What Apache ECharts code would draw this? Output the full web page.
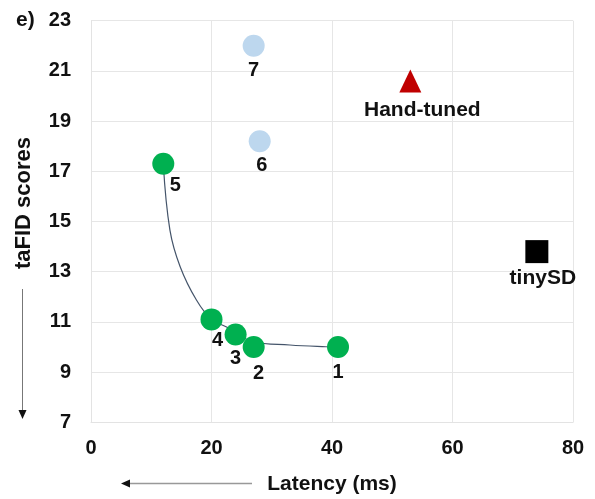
<!DOCTYPE html>
<html>
<head>
<meta charset="utf-8">
<script src="https://cdn.jsdelivr.net/npm/echarts@6/dist/echarts.min.js"></script>
<style>html,body{margin:0;padding:0;background:#fff;}#c{width:595px;height:499px;}</style>
</head>
<body>
<div id="c"></div>
<script>
// Data
const greenX = [41, 27, 24, 20, 12];
const greenY = [10.0, 10.0, 10.5, 11.1, 17.3];
const greenLabels = ['1', '2', '3', '4', '5'];
const blueX = [28, 27];
const blueY = [18.2, 22.0];
const blueLabels = ['6', '7'];
const handTuned = [53, 20.6];
const tinySD = [74, 13.8];
const curveX = [12, 13.1, 14.8, 17.5, 20, 22.5, 26.9, 33, 39, 41];
const curveY = [17.3, 14.66, 13.2, 11.87, 11.1, 10.8, 10.21, 10.08, 10.01, 10.0];
const xTicks = [0, 20, 40, 60, 80];
const yTicks = [7, 9, 11, 13, 15, 17, 19, 21, 23];

const labelOffsets = { '1': [0, 25], '2': [5, 26], '3': [0, 24], '4': [6, 21], '5': [12, 22], '6': [2, 24], '7': [0, 25] };
const font = 'Liberation Sans, Arial, sans-serif';
const lbl = (t) => ({ show: true, formatter: t, position: 'inside', offset: labelOffsets[t], color: '#111', fontSize: 20, fontWeight: 'bold', fontFamily: font });

const chart = echarts.init(document.getElementById('c'), null, { renderer: 'canvas' });
chart.setOption({
  animation: false,
  backgroundColor: '#fff',
  grid: { left: 91, right: 22, top: 20.7, bottom: 76.7 },
  xAxis: {
    type: 'value', min: xTicks[0], max: xTicks[xTicks.length - 1], interval: 20,
    axisLine: { show: true, lineStyle: { color: '#e3e3e3', width: 1 } },
    axisTick: { show: false },
    splitLine: { show: true, lineStyle: { color: '#e6e6e6', width: 1 } },
    axisLabel: { color: '#111', fontSize: 20, fontWeight: 'bold', fontFamily: font, margin: 16, formatter: v => xTicks.includes(v) ? String(v) : '' }
  },
  yAxis: {
    type: 'value', min: yTicks[0], max: yTicks[yTicks.length - 1], interval: 2,
    axisLine: { show: true, lineStyle: { color: '#e3e3e3', width: 1 } },
    axisTick: { show: false },
    splitLine: { show: true, lineStyle: { color: '#e6e6e6', width: 1 } },
    axisLabel: { color: '#111', fontSize: 20, fontWeight: 'bold', fontFamily: font, margin: 20, formatter: v => yTicks.includes(v) ? String(v) : '' }
  },
  series: [
    {
      type: 'line', smooth: 0.4, symbol: 'none', z: 1,
      data: curveX.map((x, i) => [x, curveY[i]]),
      lineStyle: { color: '#44546A', width: 1.2 }
    },
    {
      type: 'scatter', symbol: 'circle', symbolSize: 22, z: 3,
      itemStyle: { color: '#00B050', opacity: 1 },
      data: greenX.map((x, i) => ({ value: [x, greenY[i]], label: lbl(greenLabels[i]) }))
    },
    {
      type: 'scatter', symbol: 'circle', symbolSize: 22, z: 3,
      itemStyle: { color: '#BDD7EE', opacity: 1 },
      data: blueX.map((x, i) => ({ value: [x, blueY[i]], label: lbl(blueLabels[i]) }))
    },
    {
      type: 'scatter', symbol: 'triangle', symbolSize: [22, 23], z: 3,
      itemStyle: { color: '#C00000', opacity: 1 },
      data: [{ value: handTuned, label: { show: true, formatter: 'Hand-tuned', position: 'inside', offset: [12, 29], color: '#111', fontSize: 21, fontWeight: 'bold', fontFamily: font } }]
    },
    {
      type: 'scatter', symbol: 'rect', symbolSize: 23, z: 3,
      itemStyle: { color: '#000', opacity: 1 },
      data: [{ value: tinySD, label: { show: true, formatter: 'tinySD', position: 'inside', offset: [6, 27], color: '#111', fontSize: 21, fontWeight: 'bold', fontFamily: font } }]
    }
  ],
  graphic: [
    { type: 'text', x: 16, y: 20, style: { text: 'e)', font: 'bold 21px ' + font, fill: '#111', verticalAlign: 'middle' } },
    { type: 'text', x: 332, y: 484, style: { text: 'Latency (ms)', font: 'bold 21px ' + font, fill: '#111', align: 'center', verticalAlign: 'middle' } },
    { type: 'text', x: 24, y: 203, rotation: Math.PI / 2, style: { text: 'taFID scores', font: 'bold 22px ' + font, fill: '#111', align: 'center', verticalAlign: 'middle' } },
    { type: 'line', shape: { x1: 252, y1: 483.5, x2: 128, y2: 483.5 }, style: { stroke: '#999', lineWidth: 1.5 } },
    { type: 'polygon', shape: { points: [[121, 483.5], [130, 479.5], [130, 487.5]] }, style: { fill: '#111' } },
    { type: 'line', shape: { x1: 22.5, y1: 289, x2: 22.5, y2: 411 }, style: { stroke: '#777', lineWidth: 1 } },
    { type: 'polygon', shape: { points: [[22.5, 419], [18.5, 410], [26.5, 410]] }, style: { fill: '#111' } }
  ]
});
</script>
</body>
</html>
